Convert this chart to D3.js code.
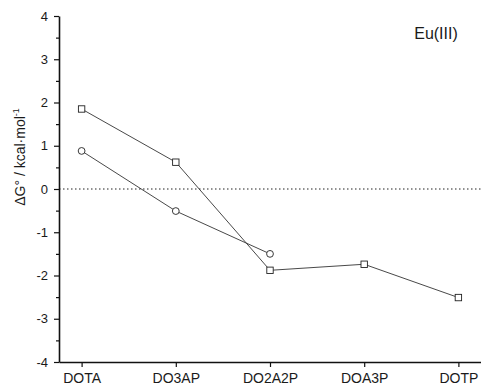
<!DOCTYPE html>
<html>
<head>
<meta charset="utf-8">
<script src="https://cdnjs.cloudflare.com/ajax/libs/d3/7.8.5/d3.min.js"></script>
<style>
  body { margin: 0; background: #fff; }
  text { font-family: "Liberation Sans", Arial, sans-serif; fill: #1a1a1a; }
</style>
</head>
<body>
<div id="chart"></div>
<script>
const categories = ["DOTA", "DO3AP", "DO2A2P", "DOA3P", "DOTP"];
const squareValues = [1.85, 0.62, -1.88, -1.74, -2.51];
const circleValues = [0.88, -0.51, -1.5, null, null];
const yTicks = [-4, -3, -2, -1, 0, 1, 2, 3, 4];

const width = 481;
const height = 389;
const margin = { top: 16, right: 0, bottom: 27, left: 59 };

const svg = d3
  .select("#chart")
  .append("svg")
  .attr("width", width)
  .attr("height", height);

const xScale = d3
  .scaleLinear()
  .domain([-0.24, 4.24])
  .range([margin.left, width - margin.right]);

const yScale = d3
  .scaleLinear()
  .domain([-4, 4])
  .range([height - margin.bottom, margin.top]);

// zero reference line
svg
  .append("line")
  .attr("x1", margin.left)
  .attr("x2", width)
  .attr("y1", yScale(0))
  .attr("y2", yScale(0))
  .style("stroke", "#222")
  .style("stroke-width", 1)
  .style("stroke-dasharray", "1.5,2.5");

// y axis with minor ticks
const yMinor = d3.range(-3.5, 4, 1);
svg
  .append("g")
  .attr("transform", `translate(${margin.left},0)`)
  .call(d3.axisLeft(yScale).tickValues(yMinor).tickSize(3).tickFormat(""))
  .call((g) => g.select(".domain").remove());

const yAxis = svg
  .append("g")
  .attr("transform", `translate(${margin.left},0)`)
  .call(
    d3
      .axisLeft(yScale)
      .tickValues(yTicks)
      .tickFormat((d) => String(d))
      .tickSize(5)
      .tickSizeOuter(0)
      .tickPadding(6)
  );
yAxis.selectAll("text").style("font-size", "13px");

// x axis
const xAxis = svg
  .append("g")
  .attr("transform", `translate(0,${height - margin.bottom})`)
  .call(
    d3
      .axisBottom(xScale)
      .tickValues(d3.range(categories.length))
      .tickFormat((i) => categories[i])
      .tickSize(5)
      .tickSizeOuter(0)
      .tickPadding(6)
  );
xAxis.selectAll("text").style("font-size", "14px");

svg.selectAll(".domain").style("stroke", "#111").style("stroke-width", 1.6);
svg.selectAll(".tick line").style("stroke", "#111").style("stroke-width", 1.2);

// series
const lineGen = d3
  .line()
  .defined((d) => d != null)
  .x((d, i) => xScale(i))
  .y((d) => yScale(d));

[squareValues, circleValues].forEach((vals) => {
  svg
    .append("path")
    .datum(vals)
    .attr("d", lineGen)
    .attr("fill", "none")
    .style("stroke", "#333")
    .style("stroke-width", 0.9);
});

const sqData = squareValues.map((v, i) => ({ i, v })).filter((d) => d.v != null);
svg
  .selectAll(".sq")
  .data(sqData)
  .enter()
  .append("rect")
  .attr("class", "sq")
  .attr("x", (d) => xScale(d.i) - 3.2)
  .attr("y", (d) => yScale(d.v) - 3.2)
  .attr("width", 6.4)
  .attr("height", 6.4)
  .attr("fill", "#fff")
  .style("stroke", "#222")
  .style("stroke-width", 0.9);

const ciData = circleValues.map((v, i) => ({ i, v })).filter((d) => d.v != null);
svg
  .selectAll(".ci")
  .data(ciData)
  .enter()
  .append("circle")
  .attr("class", "ci")
  .attr("cx", (d) => xScale(d.i))
  .attr("cy", (d) => yScale(d.v))
  .attr("r", 3.4)
  .attr("fill", "#fff")
  .style("stroke", "#222")
  .style("stroke-width", 0.9);

// labels
svg
  .append("text")
  .attr("x", 436)
  .attr("y", 39)
  .attr("text-anchor", "middle")
  .style("font-size", "16px")
  .text("Eu(III)");

const yLabel = svg
  .append("text")
  .attr("transform", `translate(25,157) rotate(-90)`)
  .attr("text-anchor", "middle")
  .style("font-size", "14px");
yLabel.append("tspan").text("ΔG° / kcal·mol");
yLabel.append("tspan").attr("dy", -6).style("font-size", "9px").text("-1");
</script>
</body>
</html>
